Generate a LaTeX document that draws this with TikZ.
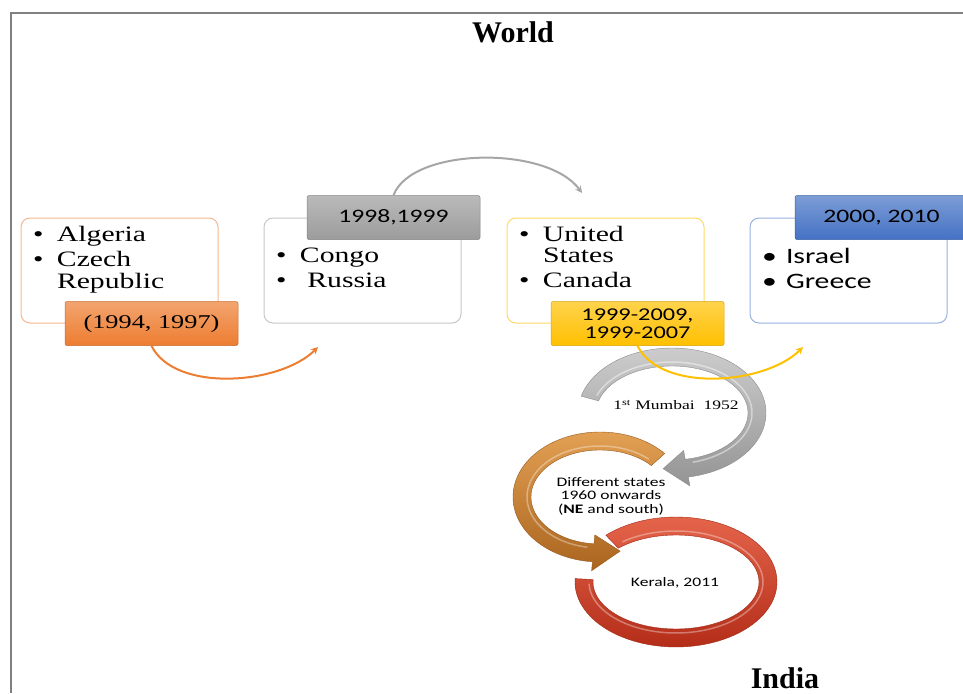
\documentclass[tikz,border=0pt]{standalone}
\usepackage{fontspec}
\setmainfont{Liberation Serif}
\newfontfamily\serifwide[FakeStretch=1.35]{Liberation Serif}
\newfontfamily\sanswide[FakeStretch=1.35]{Carlito}
\usetikzlibrary{positioning,calc,arrows.meta}

\definecolor{offorange}{HTML}{ED7D31}
\definecolor{offgray}{HTML}{9C9C9C}
\definecolor{offyellow}{HTML}{FFC000}
\definecolor{offblue}{HTML}{4472C4}

\newcommand{\blist}[2]{\parbox[c][105pt][t]{197pt}{\vspace*{#1}\hspace*{12pt}\begin{tabular}[t]{@{}p{24pt}@{}l@{}}#2\end{tabular}}}

\begin{document}
\begin{tikzpicture}[
    x=1pt, y=-1pt,
    node distance=45pt,
    cbox/.style={draw=#1, rounded corners=9pt, inner sep=0pt, line width=1pt, fill=white, font=\serifwide\fontsize{22}{21}\selectfont},
    lab/.style={rounded corners=2pt, inner sep=0pt, minimum width=173pt, minimum height=44pt, top color=#1!70, bottom color=#1, draw=#1!85!black, line width=0.5pt, align=center, font=\sanswide\fontsize{19}{17}\selectfont},
    link/.style={-{Stealth[length=7pt,width=7pt]}, line width=2pt, draw=#1},
    title/.style={font=\fontsize{30}{32}\selectfont\bfseries},
    ringtext/.style={align=center, inner sep=0pt}
]
    \useasboundingbox (0,0) rectangle (963,693);
    \draw[black!50, line width=1.5pt] (11,693) -- (11,13) -- (963,13);

    \node[title] (world) at (513,32) {World};
    \node[title] (india) at (785,678) {India};

    % world boxes
    \node[cbox=offorange!55] (c1) at (119.5,270.5) {\blist{8pt}{\textbullet & Algeria\\[4pt] \textbullet & Czech\\ & Republic}};
    \node[cbox=black!22, right=of c1] (c2) {\blist{30pt}{\textbullet & Congo\\[4pt] \textbullet & \ Russia}};
    \node[cbox=offyellow!60, right=of c2] (c3) {\blist{8pt}{\textbullet & United\\ & States\\[4pt] \textbullet & Canada}};
    \node[cbox=offblue!55, right=of c3, font=\sanswide\fontsize{22}{21}\selectfont] (c4) {\blist{30pt}{\textbullet & Israel\\[4pt] \textbullet & Greece}};

    \node[lab=offorange, font=\serifwide\fontsize{19.5}{20}\selectfont] (d1) at ($(c1.south)+(32,0)$) {(1994, 1997)};
    \node[lab=offgray] (d2) at ($(c2.north)+(31,0)$) {1998,1999};
    \node[lab=offyellow, font=\sanswide\fontsize{18}{18}\selectfont] (d3) at ($(c3.south)+(32,0)$) {1999-2009,\\1999-2007};
    \node[lab=offblue] (d4) at ($(c4.north)+(33,0)$) {2000, 2010};

    % india rings
    \shadedraw[top color={rgb,255:red,228;green,100;blue,74}, bottom color={rgb,255:red,180;green,45;blue,25}, draw={rgb,255:red,160;green,40;blue,20}, line width=0.4pt]
        plot[domain=226:543, samples=90] ({676+101*cos(\x)},{582+65*sin(\x)})
        -- plot[domain=543:226, samples=90] ({676+83*cos(\x)},{582+47*sin(\x)}) -- cycle;
    \draw[white, opacity=0.35, line width=1.5pt] plot[domain=232:538, samples=90] ({676+87*cos(\x)},{582+51*sin(\x)});

    \shadedraw[top color={rgb,255:red,226;green,160;blue,84}, bottom color={rgb,255:red,170;green,100;blue,30}, draw={rgb,255:red,150;green,90;blue,30}, line width=0.4pt]
        plot[domain=318:95, samples=90] ({600+87*cos(\x)},{497+65*sin(\x)})
        -- ({600+96*cos(95)},{497+74*sin(95)})
        -- ({600+78*cos(75)},{497+56*sin(75)})
        -- ({600+60*cos(95)},{497+38*sin(95)})
        -- plot[domain=95:318, samples=90] ({600+69*cos(\x)},{497+47*sin(\x)}) -- cycle;
    \draw[white, opacity=0.35, line width=1.5pt] plot[domain=312:100, samples=90] ({600+73*cos(\x)},{497+51*sin(\x)});

    \shadedraw[top color=black!20, bottom color=black!42, draw=black!45, line width=0.4pt]
        plot[domain=195:440, samples=90] ({672+94*cos(\x)},{413+65*sin(\x)})
        -- ({672+103*cos(440)},{413+74*sin(440)})
        -- ({672+85*cos(456)},{413+56*sin(456)})
        -- ({672+67*cos(440)},{413+38*sin(440)})
        -- plot[domain=440:195, samples=90] ({672+76*cos(\x)},{413+47*sin(\x)}) -- cycle;
    \draw[white, opacity=0.45, line width=1.5pt] plot[domain=200:435, samples=90] ({672+80*cos(\x)},{413+51*sin(\x)});

    \node[ringtext, font=\serifwide\fontsize{13}{14}\selectfont] (mumbai) at (676,405) {1\textsuperscript{st} Mumbai\ \ 1952};
    \node[ringtext, font=\sanswide\fontsize{13}{13.5}\selectfont] (states) at (611,496) {Different states\\1960 onwards\\({\bfseries NE} and south)};
    \node[ringtext, font=\sanswide\fontsize{13}{14}\selectfont] (kerala) at (675,583) {Kerala, 2011};

    % connectors
    \coordinate (e1) at (318,347);
    \coordinate (e2) at (582,193);
    \coordinate (e3) at (803,347);
    \draw[link=offorange] (d1.south) .. controls +(23,47) and +(-38,38) .. (e1);
    \draw[link=black!35] (d2.north) .. controls +(18,-48) and +(-35,-48) .. (e2);
    \draw[link=offyellow] (d3.south) .. controls +(23,47) and +(-38,38) .. (e3);
\end{tikzpicture}
\end{document}
